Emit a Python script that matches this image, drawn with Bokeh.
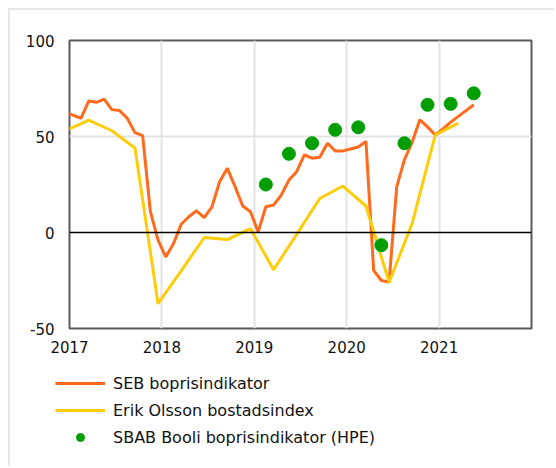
from bokeh.plotting import figure
from bokeh.models import (Legend, LegendItem, Span, FixedTicker, Range1d)
from bokeh.embed import file_html
from bokeh.resources import INLINE

# ---- data ----
# SEB boprisindikator: monthly, mid-month, Dec 2016 .. May 2021
seb_start_year = 2016
seb_start_month = 12
seb_values = [62.5, 61, 59.5, 68.5, 67.8, 69.5, 64, 63.5, 59.5, 52, 50.5, 11, -4,
              -12.7, -5.8, 4.3, 8.2, 11.3, 7.8, 13.4, 26.5, 33.4, 23.9, 13.8, 10.8,
              0.3, 13.4, 14.3, 19.5, 27.3, 31.7, 40.4, 38.7, 39.2, 46.5, 42.5, 42.5,
              43.5, 44.5, 47.4, -19.7, -25, -25.8, 23.9, 38, 47, 58.7, 55, 50.8,
              54, 57.5, 60.5, 63.5, 66.5]

# Erik Olsson bostadsindex: quarterly (mid-month of Dec/Mar/Jun/Sep)
eo_months = ["2016-12", "2017-03", "2017-06", "2017-09", "2017-12", "2018-03", "2018-06",
             "2018-09", "2018-12", "2019-03", "2019-06", "2019-09", "2019-12", "2020-03",
             "2020-06", "2020-09", "2020-12", "2021-03"]
eo_values = [53, 58.5, 53, 44, -37, -20, -2.6, -3.7, 2, -19.4, -1, 17.7, 24.2, 13.8,
             -26, 4.7, 50.8, 57]

# SBAB Booli boprisindikator (HPE): quarterly points
sbab_months = ["2019-02", "2019-05", "2019-08", "2019-11", "2020-02", "2020-05",
               "2020-08", "2020-11", "2021-02", "2021-05"]
sbab_values = [25, 41, 46.5, 53.5, 54.8, -6.6, 46.5, 66.5, 67, 72.5]

year_ticks = [2017, 2018, 2019, 2020, 2021]
y_ticks = [-50, 0, 50, 100]
y_tick_labels = {-50: "-50", 0: "0", 50: "50", 100: "100"}

series_names = ["SEB boprisindikator", "Erik Olsson bostadsindex",
                "SBAB Booli boprisindikator (HPE)"]


def month_pos(ym):
    y, m = ym.split("-")
    return int(y) + (int(m) - 1 + 0.5) / 12.0


seb_x = [seb_start_year + (seb_start_month - 1 + i + 0.5) / 12.0 for i in range(len(seb_values))]
eo_x = [month_pos(s) for s in eo_months]
sbab_x = [month_pos(s) for s in sbab_months]

FONT = "DejaVu Sans"
ORANGE = "#FF6A1C"
YELLOW = "#FFCC0A"
GREEN = "#009E00"
BORDER = "2px solid #e6e6e6"

# ---- main chart ----
p = figure(width=546, height=360, output_backend="svg", toolbar_location=None,
           x_range=Range1d(2017, 2022), y_range=Range1d(-50, 100),
           min_border_left=59, min_border_right=25, min_border_top=30,
           min_border_bottom=42)
p.styles = {"margin-left": "8px", "margin-top": "8px",
            "border-left": BORDER, "border-top": BORDER}
p.background_fill_color = "white"
p.border_fill_color = "white"
p.outline_line_color = "#5a5a5a"
p.outline_line_width = 2

for ax in (p.xaxis[0], p.yaxis[0]):
    ax.axis_line_color = None
    ax.major_tick_line_color = None
    ax.minor_tick_line_color = None
    ax.major_tick_out = 0
    ax.major_label_text_font = FONT
    ax.major_label_text_font_size = "15px"
    ax.major_label_text_color = "#111111"

p.xaxis[0].ticker = FixedTicker(ticks=year_ticks)
p.xaxis[0].major_label_standoff = 12
p.yaxis[0].ticker = FixedTicker(ticks=y_ticks)
p.yaxis[0].major_label_standoff = 15
p.yaxis[0].major_label_overrides = y_tick_labels

p.xgrid[0].ticker = FixedTicker(ticks=year_ticks + [2022])
p.xgrid[0].grid_line_color = "#e3e3e3"
p.xgrid[0].grid_line_width = 2
p.ygrid[0].ticker = FixedTicker(ticks=[50])
p.ygrid[0].grid_line_color = "#e3e3e3"
p.ygrid[0].grid_line_width = 2

p.add_layout(Span(location=0, dimension="width", line_color="black", line_width=1.5))

p.line(seb_x, seb_values, line_color=ORANGE, line_width=3)
p.line(eo_x, eo_values, line_color=YELLOW, line_width=3)
p.scatter(sbab_x, sbab_values, size=13, fill_color=GREEN, line_color=GREEN)

# ---- legend panel (separate canvas below the chart) ----
q = figure(width=546, height=98, output_backend="svg", toolbar_location=None,
           x_range=Range1d(0, 1), y_range=Range1d(0, 1),
           min_border=0, min_border_left=0, min_border_right=0,
           min_border_top=0, min_border_bottom=0)
q.styles = {"margin-left": "8px", "border-left": BORDER}
q.axis.visible = False
q.grid.visible = False
q.outline_line_color = None
q.background_fill_color = "white"
q.border_fill_color = "white"

# legend swatches: renderers whose data sit outside the visible range
l_seb = q.line([-5, -4], [-5, -4], line_color=ORANGE, line_width=3)
l_eo = q.line([-5, -4], [-5, -4], line_color=YELLOW, line_width=3)
l_sbab = q.scatter([-5], [-5], size=13, fill_color=GREEN, line_color=GREEN)

legend = Legend(items=[LegendItem(label=series_names[0], renderers=[l_seb]),
                       LegendItem(label=series_names[1], renderers=[l_eo]),
                       LegendItem(label=series_names[2], renderers=[l_sbab])],
                location=(45, 19), orientation="vertical",
                glyph_width=50, glyph_height=20, label_height=20,
                label_standoff=8, spacing=7, padding=0, margin=0,
                border_line_color=None, background_fill_alpha=0,
                label_text_font=FONT, label_text_font_size="16px",
                label_text_color="#111111")
q.add_layout(legend, "center")

open("out.html", "w").write(file_html([p, q], INLINE))
